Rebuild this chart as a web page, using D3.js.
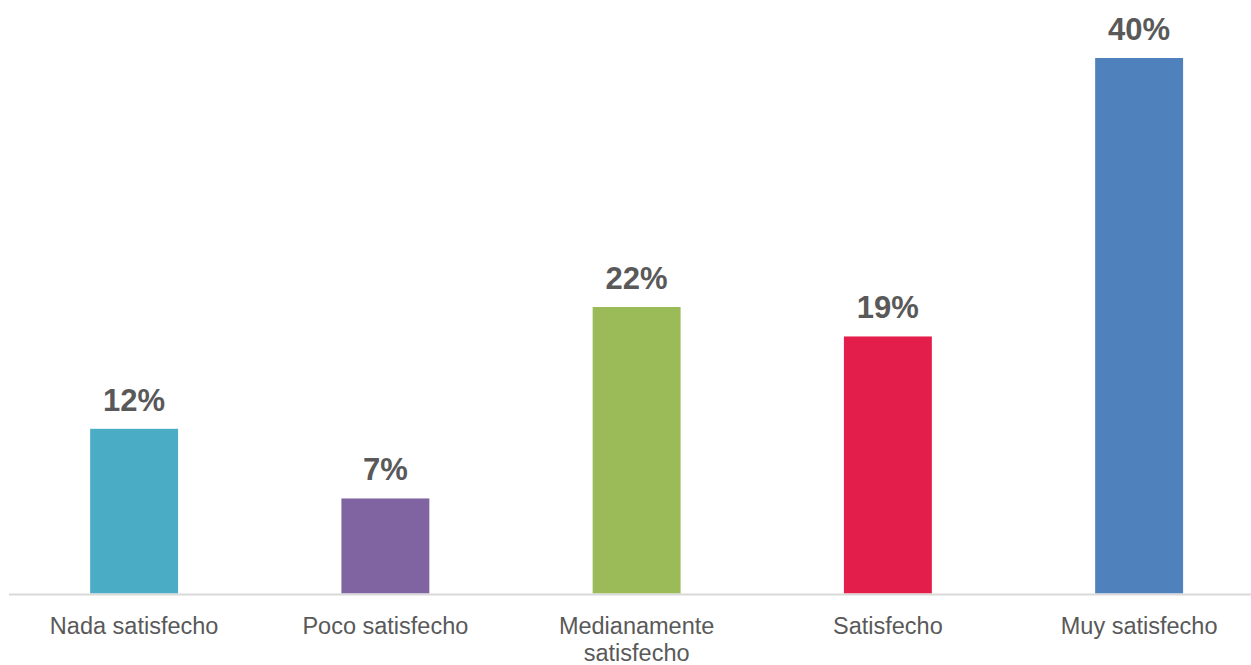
<!DOCTYPE html>
<html>
<head>
<meta charset="utf-8">
<script src="https://cdn.jsdelivr.net/npm/d3@7"></script>
<style>
    body { margin: 0; background: #fff; }
    svg { display: block; font-family: "Liberation Sans", Arial, Helvetica, sans-serif; }
</style>
</head>
<body>
<svg id="chart" width="1251" height="665"></svg>
<script>
// datos del gráfico
var categories = ['Nada satisfecho', 'Poco satisfecho', 'Medianamente satisfecho', 'Satisfecho', 'Muy satisfecho'];
var values = [12.3, 7.1, 21.4, 19.2, 40.0];
var valueLabels = ['12%', '7%', '22%', '19%', '40%'];
var colors = ['#4BACC6', '#8064A2', '#9BBB59', '#E41E4A', '#4F81BD'];

var svg = d3.select("#chart"),
    width = +svg.attr("width"),
    height = +svg.attr("height");

var baseY = 593.5;

var x = d3.scaleBand()
    .domain(categories)
    .range([8.5, 1264.75])
    .paddingInner(0.65)
    .paddingOuter(0.325);

var y = d3.scaleLinear()
    .domain([0, 40])
    .range([baseY, 58]);

var data = categories.map(function(c, i) {
    return { name: c, value: values[i], label: valueLabels[i], color: colors[i] };
});

// barras
svg.append("g")
    .selectAll("rect")
    .data(data)
    .enter().append("rect")
    .attr("x", function(d) { return x(d.name); })
    .attr("y", function(d) { return y(d.value); })
    .attr("width", x.bandwidth())
    .attr("height", function(d) { return baseY - y(d.value); })
    .attr("fill", function(d) { return d.color; });

// eje x
var axis = svg.append("g")
    .attr("transform", "translate(0," + (baseY + 1) + ")")
    .call(d3.axisBottom(x).tickSize(0).tickPadding(23));

axis.select(".domain")
    .attr("d", "M9,0H" + width)
    .attr("stroke", "#d9d9d9")
    .attr("stroke-width", 2);

axis.selectAll(".tick text")
    .attr("font-size", "23.5px")
    .attr("font-family", "'Liberation Sans', Arial, sans-serif")
    .attr("fill", "#595959")
    .call(wrap, 230);

// etiquetas de valores
svg.append("g")
    .selectAll("text")
    .data(data)
    .enter().append("text")
    .attr("x", function(d) { return x(d.name) + x.bandwidth() / 2; })
    .attr("y", function(d) { return y(d.value) - 18; })
    .attr("text-anchor", "middle")
    .attr("font-size", "31px")
    .attr("font-weight", "bold")
    .attr("fill", "#595959")
    .text(function(d) { return d.label; });

function wrap(text, w) {
    text.each(function() {
        var t = d3.select(this),
            words = t.text().split(/\s+/),
            line = [],
            lineNo = 0,
            ty = t.attr("y"),
            dy = parseFloat(t.attr("dy")) || 0,
            tspan = t.text(null).append("tspan").attr("x", 0).attr("y", ty).attr("dy", dy + "em");
        words.forEach(function(word) {
            line.push(word);
            tspan.text(line.join(" "));
            if (tspan.node().getComputedTextLength() > w && line.length > 1) {
                line.pop();
                tspan.text(line.join(" "));
                line = [word];
                lineNo++;
                tspan = t.append("tspan").attr("x", 0).attr("y", ty)
                    .attr("dy", (lineNo * 1.15 + dy) + "em").text(word);
            }
        });
    });
}
</script>
</body>
</html>
